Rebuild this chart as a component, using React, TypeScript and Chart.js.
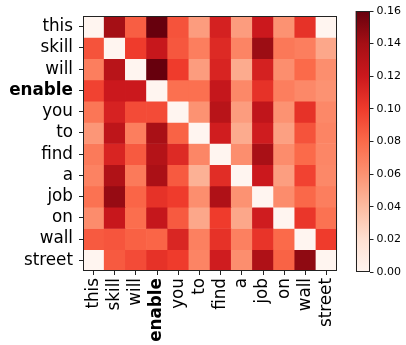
import React, { useEffect, useRef } from "react";
import { Chart, registerables } from "chart.js";

Chart.register(...registerables);

const tokens = ["this", "skill", "will", "enable", "you", "to", "find", "a", "job", "on", "wall", "street"];

const attention: number[][] = [
  [0.0, 0.14, 0.085, 0.16, 0.09, 0.055, 0.115, 0.055, 0.12, 0.06, 0.105, 0.0],
  [0.09, 0.0, 0.1, 0.122, 0.088, 0.07, 0.11, 0.067, 0.143, 0.073, 0.07, 0.05],
  [0.07, 0.13, 0.0, 0.16, 0.1, 0.055, 0.113, 0.048, 0.115, 0.062, 0.08, 0.062],
  [0.097, 0.12, 0.12, 0.0, 0.077, 0.077, 0.123, 0.065, 0.105, 0.07, 0.065, 0.06],
  [0.074, 0.114, 0.093, 0.093, 0.0, 0.06, 0.13, 0.055, 0.126, 0.06, 0.105, 0.065],
  [0.058, 0.127, 0.07, 0.138, 0.083, 0.0, 0.117, 0.048, 0.118, 0.053, 0.09, 0.067],
  [0.072, 0.113, 0.087, 0.132, 0.11, 0.066, 0.0, 0.062, 0.138, 0.063, 0.08, 0.066],
  [0.068, 0.134, 0.072, 0.137, 0.087, 0.045, 0.108, 0.0, 0.12, 0.054, 0.097, 0.065],
  [0.076, 0.145, 0.082, 0.105, 0.1, 0.062, 0.135, 0.06, 0.0, 0.063, 0.081, 0.07],
  [0.063, 0.122, 0.078, 0.123, 0.087, 0.05, 0.1, 0.05, 0.118, 0.0, 0.103, 0.076],
  [0.087, 0.089, 0.084, 0.082, 0.112, 0.069, 0.105, 0.069, 0.104, 0.08, 0.0, 0.1],
  [0.0, 0.087, 0.093, 0.105, 0.1, 0.067, 0.118, 0.062, 0.135, 0.083, 0.147, 0.0],
];

const vmin = 0;
const vmax = 0.16;
const colorbarTicks = [0, 0.02, 0.04, 0.06, 0.08, 0.1, 0.12, 0.14, 0.16];

const REDS = ["#fff5f0", "#fee0d2", "#fcbba1", "#fc9272", "#fb6a4a", "#ef3b2c", "#cb181d", "#a50f15", "#67000d"];

function hexToRgb(h: string) {
  return [parseInt(h.slice(1, 3), 16), parseInt(h.slice(3, 5), 16), parseInt(h.slice(5, 7), 16)];
}

function reds(v: number) {
  let t = (v - vmin) / (vmax - vmin);
  t = Math.max(0, Math.min(1, t));
  const pos = t * (REDS.length - 1);
  const i = Math.min(REDS.length - 2, Math.floor(pos));
  const f = pos - i;
  const a = hexToRgb(REDS[i]);
  const b = hexToRgb(REDS[i + 1]);
  const c = a.map((x, k) => Math.round(x + (b[k] - x) * f));
  return `rgb(${c[0]},${c[1]},${c[2]})`;
}

const FONT = "'DejaVu Sans', sans-serif";

const framePlugin = {
  id: "frame",
  afterDatasetsDraw(chart: any) {
    const { ctx, chartArea } = chart;
    ctx.save();
    ctx.strokeStyle = "#222";
    ctx.lineWidth = 1;
    ctx.strokeRect(
      Math.round(chartArea.left) + 0.5,
      Math.round(chartArea.top) + 0.5,
      Math.round(chartArea.right - chartArea.left) - 1,
      Math.round(chartArea.bottom - chartArea.top) - 1
    );
    ctx.restore();
  },
};

export default function App() {
  const mainRef = useRef<HTMLCanvasElement>(null);
  const cbRef = useRef<HTMLCanvasElement>(null);

  useEffect(() => {
    const datasets = attention.map((row, r) => ({
      label: tokens[r],
      data: row.map(() => 1),
      backgroundColor: row.map((v) => reds(v)),
      borderColor: row.map((v) => reds(v)),
      borderWidth: 0,
      barPercentage: 1,
      categoryPercentage: 1,
      stack: "s",
    }));

    const main = new Chart(mainRef.current!, {
      type: "bar",
      data: { labels: tokens, datasets },
      plugins: [framePlugin],
      options: {
        responsive: false,
        animation: false,
        layout: { padding: { left: 0, right: 7, top: 11, bottom: 0 } },
        plugins: { legend: { display: false }, tooltip: { enabled: false } },
        scales: {
          x: {
            stacked: true,
            grid: { display: true, drawOnChartArea: false, drawTicks: true, tickLength: 4, color: "#222", offset: false },
            border: { display: false },
            ticks: {
              minRotation: 90,
              maxRotation: 90,
              autoSkip: false,
              padding: 3,
              color: "#000",
              font: (c: any) => ({
                family: FONT,
                size: 16.8,
                weight: tokens[c.index] === "enable" ? "bold" : "normal",
              }),
            },
            afterFit: (s: any) => {
              s.height = 74;
            },
          },
          y: {
            type: "linear",
            stacked: true,
            min: 0,
            max: tokens.length,
            reverse: true,
            afterBuildTicks: (s: any) => {
              s.ticks = tokens.map((_, i) => ({ value: i + 0.5 }));
            },
            grid: { display: true, drawOnChartArea: false, drawTicks: true, tickLength: 4, color: "#222" },
            border: { display: false },
            ticks: {
              autoSkip: false,
              padding: 6,
              color: "#000",
              callback: (v: any) => tokens[Math.floor(Number(v))],
              font: (c: any) => ({
                family: FONT,
                size: 16.8,
                weight: tokens[c.index] === "enable" ? "bold" : "normal",
              }),
            },
            afterFit: (s: any) => {
              s.width = 83;
            },
          },
        },
      },
    });

    const cb = new Chart(cbRef.current!, {
      type: "bar",
      data: {
        labels: ["cb"],
        datasets: [
          {
            data: [[vmin, vmax]] as any,
            barPercentage: 1,
            categoryPercentage: 1,
            borderWidth: 0,
            backgroundColor: (c: any) => {
              const ch = c.chart;
              const area = ch.chartArea;
              if (!area) return REDS[4];
              const g = ch.ctx.createLinearGradient(0, area.bottom, 0, area.top);
              REDS.forEach((col, i) => g.addColorStop(i / (REDS.length - 1), col));
              return g;
            },
          },
        ],
      },
      plugins: [framePlugin],
      options: {
        responsive: false,
        animation: false,
        layout: { padding: { left: 15.5, right: 0, top: 11, bottom: 73 } },
        plugins: { legend: { display: false }, tooltip: { enabled: false } },
        scales: {
          x: { display: false },
          y: {
            position: "right",
            min: vmin,
            max: vmax,
            afterBuildTicks: (s: any) => {
              s.ticks = colorbarTicks.map((v) => ({ value: v }));
            },
            grid: { display: true, drawOnChartArea: false, drawTicks: true, tickLength: 4, color: "#222" },
            border: { display: false },
            ticks: {
              padding: 3,
              color: "#000",
              font: { family: FONT, size: 11 },
              callback: (v: any) => Number(v).toFixed(2),
            },
            afterFit: (s: any) => {
              s.width = 36.5;
            },
          },
        },
      },
    });

    return () => {
      main.destroy();
      cb.destroy();
    };
  }, []);

  return (
    <div style={{ position: "absolute", left: 0, top: 0, width: 406, height: 345, background: "#fff" }}>
      <canvas ref={mainRef} width={350} height={345} style={{ position: "absolute", left: 0, top: 0 }} />
      <canvas ref={cbRef} width={66} height={345} style={{ position: "absolute", left: 340, top: 0 }} />
    </div>
  );
}
